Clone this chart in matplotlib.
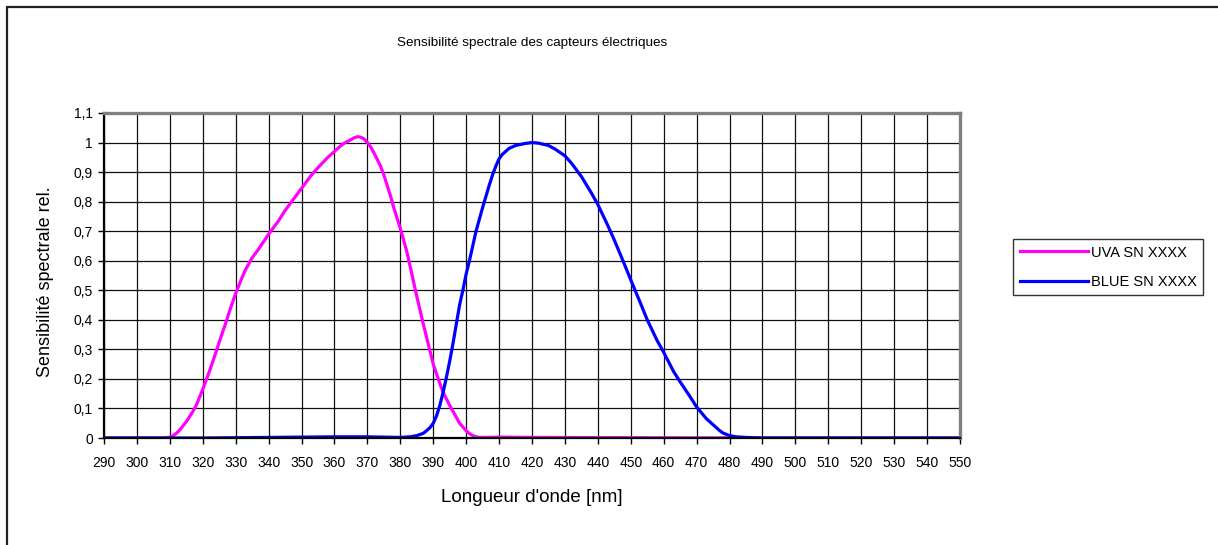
import numpy as np
import matplotlib
matplotlib.use('Agg')
import matplotlib.pyplot as plt
from matplotlib.patches import Rectangle
from matplotlib.ticker import FuncFormatter, MultipleLocator

plt.rcParams['font.family'] = ['Liberation Sans', 'DejaVu Sans']

# UVA sensor (magenta)
uva_nm = [290, 300, 305, 308, 309, 310, 311, 312, 313, 315, 317, 318, 320, 322, 324,
          325, 327, 328, 330, 332, 333, 335, 337, 340, 343, 345, 348, 350, 353, 355,
          358, 360, 362, 363, 365, 366, 367, 368, 369, 370, 371, 372, 374, 375, 377,
          378, 380, 382, 383, 385, 387, 388, 390, 392, 393, 395, 397, 398, 400, 401,
          402, 403, 404, 406, 410, 420, 450, 500, 550]
uva_val = [0, 0, 0, 0, 0.001, 0.003, 0.008, 0.016, 0.027, 0.055, 0.09, 0.11, 0.165, 0.225, 0.29,
           0.325, 0.39, 0.425, 0.49, 0.545, 0.57, 0.61, 0.64, 0.69, 0.735, 0.77, 0.815, 0.845, 0.89, 0.915,
           0.95, 0.97, 0.99, 0.998, 1.01, 1.016, 1.02, 1.018, 1.012, 1.0, 0.985, 0.965, 0.92, 0.89, 0.82,
           0.78, 0.71, 0.63, 0.58, 0.48, 0.385, 0.34, 0.25, 0.185, 0.155, 0.11, 0.07, 0.05, 0.025, 0.015,
           0.008, 0.004, 0.002, 0.002, 0.003, 0.002, 0.001, 0.0, 0.0]

# BLUE sensor (blue)
blue_nm = [290, 320, 340, 360, 370, 380, 383, 385, 387, 388, 389, 390, 391, 392, 393,
           394, 395, 396, 397, 398, 399, 400, 401, 402, 403, 405, 407, 408, 409, 410,
           411, 413, 415, 418, 420, 422, 425, 427, 430, 432, 435, 438, 440, 443, 445,
           448, 450, 453, 455, 458, 460, 463, 465, 468, 470, 473, 475, 477, 478, 480,
           482, 485, 490, 500, 550]
blue_val = [0, 0, 0.002, 0.004, 0.004, 0.002, 0.004, 0.008, 0.016, 0.025, 0.035, 0.05, 0.075, 0.11, 0.155,
            0.205, 0.26, 0.32, 0.385, 0.45, 0.5, 0.555, 0.6, 0.65, 0.7, 0.78, 0.855, 0.89, 0.92, 0.945,
            0.96, 0.98, 0.99, 0.997, 1.0, 0.998, 0.99, 0.978, 0.955, 0.93, 0.885, 0.83, 0.79, 0.72, 0.67,
            0.59, 0.535, 0.455, 0.4, 0.33, 0.29, 0.225, 0.19, 0.14, 0.105, 0.065, 0.045, 0.025, 0.017, 0.008,
            0.004, 0.002, 0, 0, 0]

W, H = 1218, 545
fig = plt.figure(figsize=(W / 100, H / 100), dpi=100)
ax = fig.add_axes([104 / W, 1 - 438 / H, (960 - 104) / W, (438 - 113) / H])

l1, = ax.plot(uva_nm, uva_val, color='#FF00FF', lw=2.3, solid_joinstyle='round')
l2, = ax.plot(blue_nm, blue_val, color='#0000FF', lw=2.3, solid_joinstyle='round')

ax.set_xlim(290, 550)
ax.set_ylim(0, 1.1)
ax.xaxis.set_major_locator(MultipleLocator(10))
ax.yaxis.set_major_locator(MultipleLocator(0.1))
ax.yaxis.set_major_formatter(FuncFormatter(lambda v, p: ('%g' % round(v, 1)).replace('.', ',')))
ax.grid(True, color='#111111', lw=0.9)
ax.set_axisbelow(True)
ax.tick_params(direction='out', length=4, width=1, labelsize=10, color='black')
ax.tick_params(axis='x', pad=9)
ax.tick_params(axis='y', pad=4)

for s in ['left', 'bottom']:
    ax.spines[s].set_color('black')
    ax.spines[s].set_linewidth(1.6)
for s in ['top', 'right']:
    ax.spines[s].set_color('#808080')
    ax.spines[s].set_linewidth(2.4)

ax.set_title('Sensibilité spectrale des capteurs électriques', fontsize=9.7, pad=48)
ax.set_xlabel("Longueur d'onde [nm]", fontsize=13.5, labelpad=14)
ax.set_ylabel('Sensibilité spectrale rel.', fontsize=13)
ax.yaxis.set_label_coords(-0.058, 0.48)

leg = fig.legend(handles=[l1, l2], labels=['UVA SN XXXX', 'BLUE SN XXXX'],
                 loc='upper left', bbox_to_anchor=(1013 / W, 1 - 239 / H),
                 frameon=True, fancybox=False, edgecolor='black', fontsize=10.5,
                 handlelength=4.7, handletextpad=0.2, labelspacing=1.05,
                 borderpad=0.45, borderaxespad=0)
leg.get_frame().set_linewidth(1.0)

# outer chart frame (only left and top edges fall inside the picture)
fig.patches.append(Rectangle((7 / W, -0.1), 1.0, 1.1 - 7 / H, transform=fig.transFigure,
                             fill=False, edgecolor='#222222', lw=1.6))

fig.savefig('out.png', dpi=100)
